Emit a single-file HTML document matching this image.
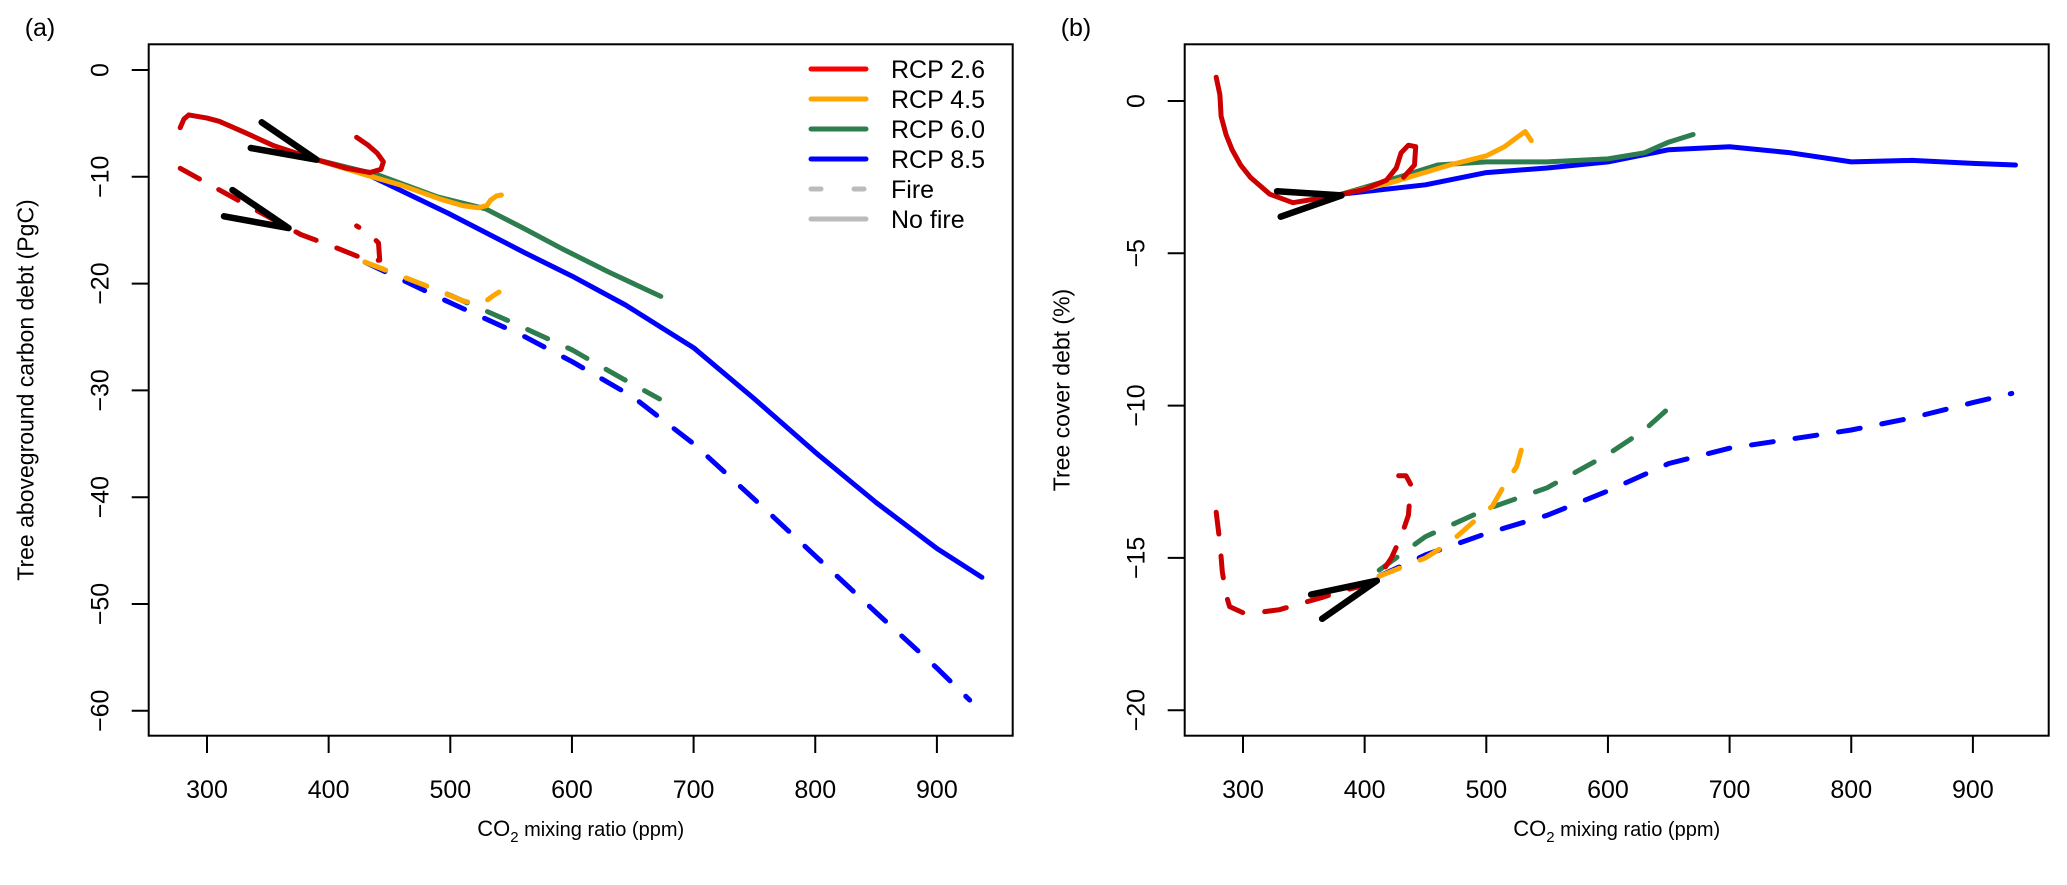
<!DOCTYPE html>
<html><head><meta charset="utf-8">
<style>
html,body{margin:0;padding:0;background:#fff;}
svg{display:block;font-family:"Liberation Sans",Arial,sans-serif;}
</style></head>
<body>
<svg id="chart" width="2067" height="885" viewBox="0 0 2067 885" xmlns="http://www.w3.org/2000/svg">
<g id="pa"></g>
<g id="pb"></g>
</svg>
<script>
// ---- Panel (a) data: [ppm, value] ----
const a_rcp26_nofire = [[278,-5.4],[281,-4.6],[285,-4.2],[300,-4.5],[310,-4.8],[330,-5.8],[355,-7.1],[390,-8.4],[415,-9.2],[434,-9.6],[443,-9.3],[445,-8.6],[440,-7.8],[432,-7.0],[423,-6.3]];
const a_rcp45_nofire = [[390,-8.4],[430,-9.8],[460,-10.8],[492,-12.1],[510,-12.7],[523,-12.9],[530,-12.7],[533,-12.2],[538,-11.8],[542,-11.7]];
const a_rcp60_nofire = [[390,-8.4],[440,-9.8],[490,-11.9],[529,-13.0],[560,-14.8],[593,-16.8],[630,-18.9],[673,-21.2]];
const a_rcp85_nofire = [[390,-8.4],[434,-9.9],[498,-13.4],[561,-17.1],[600,-19.3],[644,-22.0],[700,-26.0],[750,-30.8],[800,-35.8],[850,-40.5],[900,-44.8],[937,-47.5]];
const a_rcp26_fire = [[278,-9.2],[300,-10.6],[340,-13.1],[377,-15.4],[403,-16.5],[425,-17.5],[434,-17.9],[442,-17.8],[441,-16.2],[433,-15.3],[423,-14.6]];
const a_rcp45_fire = [[430,-18.0],[480,-20.2],[510,-21.6],[525,-22.0],[532,-21.4],[537,-21.0],[540,-20.8]];
const a_rcp60_fire = [[430,-18.0],[500,-21.1],[550,-23.6],[600,-26.2],[640,-28.8],[672,-30.8]];
const a_rcp85_fire = [[430,-18.0],[500,-21.8],[560,-24.9],[600,-27.3],[650,-30.6],[700,-35.0],[750,-40.2],[800,-45.5],[850,-50.8],[900,-56.0],[927,-59.0]];
const a_arrow1 = [[345,-4.9],[390,-8.4],[336,-7.3]];
const a_arrow2 = [[321,-11.25],[367,-14.8],[314,-13.7]];
const a_yticks = [0,-10,-20,-30,-40,-50,-60];
// ---- Panel (b) data ----
const b_rcp26_nofire = [[278,0.78],[281,0.2],[282,-0.5],[286,-1.1],[291,-1.6],[298,-2.1],[306,-2.5],[322,-3.06],[341,-3.34],[366,-3.17],[381,-3.06],[400,-2.9],[418,-2.6],[426,-2.2],[430,-1.7],[436,-1.45],[442,-1.5],[441,-2.1],[432,-2.5]];
const b_rcp45_nofire = [[381,-3.06],[420,-2.7],[470,-2.1],[500,-1.8],[515,-1.5],[525,-1.2],[532,-1.0],[537,-1.3]];
const b_rcp60_nofire = [[381,-3.06],[420,-2.6],[460,-2.1],[500,-2.0],[550,-2.0],[600,-1.9],[630,-1.7],[650,-1.35],[670,-1.1]];
const b_rcp85_nofire = [[381,-3.06],[450,-2.75],[500,-2.35],[550,-2.2],[600,-2.0],[650,-1.6],[700,-1.5],[750,-1.7],[800,-2.0],[850,-1.95],[900,-2.05],[935,-2.1]];
const b_rcp26_fire = [[278,-13.5],[281,-14.5],[283,-15.45],[286,-16.2],[289,-16.6],[300,-16.8],[311,-16.8],[330,-16.7],[347,-16.5],[365,-16.3],[380,-16.1],[400,-15.9],[412,-15.6],[422,-15.0],[430,-14.3],[436,-13.6],[438,-12.6],[434,-12.3],[428,-12.3]];
const b_rcp45_fire = [[412,-15.6],[450,-15.0],[470,-14.5],[490,-13.8],[505,-13.3],[515,-12.6],[525,-12.0],[532,-11.0]];
const b_rcp60_fire = [[412,-15.4],[450,-14.3],[500,-13.4],[550,-12.7],[600,-11.6],[630,-10.8],[655,-9.9]];
const b_rcp85_fire = [[412,-15.6],[450,-14.9],[500,-14.2],[550,-13.6],[600,-12.8],[650,-11.9],[700,-11.4],[750,-11.1],[800,-10.8],[850,-10.4],[900,-9.9],[932,-9.6]];
const b_arrow1 = [[328,-2.96],[381,-3.1],[331,-3.8]];
const b_arrow2 = [[356,-16.2],[410,-15.75],[365,-17.0]];
const b_yticks = [0,-5,-10,-15,-20];
const xticks = [300,400,500,600,700,800,900];
const legendLabels = ["RCP 2.6","RCP 4.5","RCP 6.0","RCP 8.5","Fire","No fire"];
const legendColors = ["#ff0000","#ffa500","#2e7d4f","#0000ff","#bbbbbb","#bbbbbb"];

const NS="http://www.w3.org/2000/svg";
const COL={r:"#cc0000",o:"#ffa500",g:"#2e7d4f",b:"#0000ff"};
function mk(parent,tag,attrs){const e=document.createElementNS(NS,tag);for(const k in attrs)e.setAttribute(k,attrs[k]);parent.appendChild(e);return e;}

function panel(g,cfg){
  const xs=v=>cfg.x300+(v-300)*1.2165;
  const ys=v=>cfg.y0-v*cfg.ppu;
  const box=mk(g,"rect",{x:cfg.L,y:44.3,width:864,height:691.4,fill:"none",stroke:"#000","stroke-width":2});
  
  
  xticks.forEach(t=>{
    const ln=mk(g,"line",{x1:xs(t),x2:xs(t),y1:735.7,y2:753,stroke:"#000","stroke-width":2});
    
    
    const tx=mk(g,"text",{x:xs(t),y:798,"font-size":25,"text-anchor":"middle"});
    tx.textContent=t;
    
    
  });
  cfg.yticks.forEach(t=>{
    const ln=mk(g,"line",{x1:cfg.L-17,x2:cfg.L,y1:ys(t),y2:ys(t),stroke:"#000","stroke-width":2});
    
    
    const tx=mk(g,"text",{x:0,y:0,"font-size":25,"text-anchor":"middle",transform:`translate(${cfg.L-40},${ys(t)}) rotate(-90)`});
    tx.textContent=t<0?"\u2212"+Math.abs(t):t;
    
    
  });
  const xt=mk(g,"text",{x:cfg.L+432,y:836,"font-size":22,"text-anchor":"middle"});
  xt.innerHTML='CO<tspan font-size="15" dy="6">2</tspan><tspan dy="-6" font-size="20"> mixing ratio (ppm)</tspan>';
  
  
  const yt=mk(g,"text",{x:0,y:0,"font-size":23,"text-anchor":"middle",transform:`translate(${cfg.L-115},390) rotate(-90)`});
  yt.textContent=cfg.ytitle;
  
  
  const pl=mk(g,"text",{x:cfg.L-124,y:36,"font-size":25});
  pl.textContent=cfg.label;
  
  
  const path=pts=>pts.map((p,i)=>(i?"L":"M")+xs(p[0]).toFixed(1)+","+ys(p[1]).toFixed(1)).join(" ");
  cfg.series.forEach(s=>{
    const p=mk(g,"path",{d:path(s.d),fill:"none",stroke:s.c,"stroke-width":s.w||5,"stroke-linecap":"round","stroke-linejoin":"round"});
    if(s.dash)p.setAttribute("stroke-dasharray","22 22");
    
    
  });
}

panel(document.getElementById("pa"),{L:148.7,x300:207,y0:70,ppu:10.68,yticks:a_yticks,ytitle:"Tree aboveground carbon debt (PgC)",label:"(a)",
 series:[
  {d:a_rcp85_fire,c:COL.b,dash:1,n:"rcp85-fire-line"},
  {d:a_rcp60_fire,c:COL.g,dash:1,n:"rcp60-fire-line"},
  {d:a_rcp45_fire,c:COL.o,dash:1,n:"rcp45-fire-line"},
  {d:a_rcp26_fire,c:COL.r,dash:1,n:"rcp26-fire-line"},
  {d:a_rcp85_nofire,c:COL.b,n:"rcp85-nofire-line"},
  {d:a_rcp60_nofire,c:COL.g,n:"rcp60-nofire-line"},
  {d:a_rcp45_nofire,c:COL.o,n:"rcp45-nofire-line"},
  {d:a_rcp26_nofire,c:COL.r,n:"rcp26-nofire-line"},
  {d:a_arrow1,c:"#000",w:6.5,n:"arrow-nofire"},
  {d:a_arrow2,c:"#000",w:6.5,n:"arrow-fire"}]});

panel(document.getElementById("pb"),{L:1184.7,x300:1243,y0:101,ppu:30.46,yticks:b_yticks,ytitle:"Tree cover debt (%)",label:"(b)",
 series:[
  {d:b_rcp85_fire,c:COL.b,dash:1,n:"rcp85-fire-line"},
  {d:b_rcp60_fire,c:COL.g,dash:1,n:"rcp60-fire-line"},
  {d:b_rcp45_fire,c:COL.o,dash:1,n:"rcp45-fire-line"},
  {d:b_rcp26_fire,c:COL.r,dash:1,n:"rcp26-fire-line"},
  {d:b_rcp85_nofire,c:COL.b,n:"rcp85-nofire-line"},
  {d:b_rcp60_nofire,c:COL.g,n:"rcp60-nofire-line"},
  {d:b_rcp45_nofire,c:COL.o,n:"rcp45-nofire-line"},
  {d:b_rcp26_nofire,c:COL.r,n:"rcp26-nofire-line"},
  {d:b_arrow1,c:"#000",w:6.5,n:"arrow-nofire"},
  {d:b_arrow2,c:"#000",w:6.5,n:"arrow-fire"}]});

// legend
const lg=mk(document.getElementById("pa"),"g",{});


legendLabels.forEach((lab,i)=>{
  const y=69+i*30;
  const ln=mk(lg,"line",{x1:811,x2:866,y1:y,y2:y,stroke:legendColors[i],"stroke-width":5,"stroke-linecap":"round"});
  if(lab==="Fire")ln.setAttribute("stroke-dasharray","10 33");
  
  
  const t=mk(lg,"text",{x:891,y:y+9,"font-size":25});
  t.textContent=lab;
  
  
});
</script>
</body></html>
